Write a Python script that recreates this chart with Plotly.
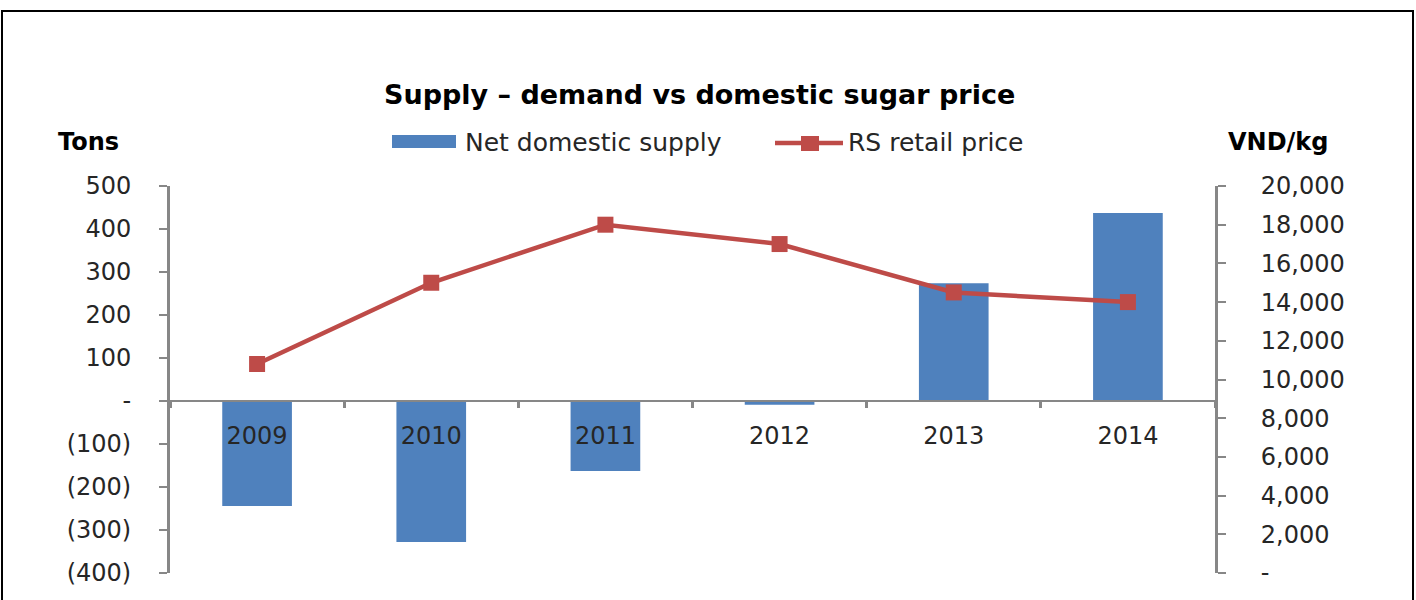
import plotly.graph_objects as go

# Data
years = ["2009", "2010", "2011", "2012", "2013", "2014"]
net_supply = [-244, -328, -163, -9, 274, 437]          # tons
retail_price = [10800, 15000, 18000, 17000, 14500, 14000]  # VND/kg

left_ticks = [500, 400, 300, 200, 100, 0, -100, -200, -300, -400]
left_labels = ["500", "400", "300", "200", "100", "-", "(100)", "(200)", "(300)", "(400)"]
right_ticks = [20000, 18000, 16000, 14000, 12000, 10000, 8000, 6000, 4000, 2000, 0]
right_labels = ["20,000", "18,000", "16,000", "14,000", "12,000", "10,000",
                "8,000", "6,000", "4,000", "2,000", "-"]

BLUE = "#4F81BD"
RED = "#BE4B48"
AXIS = "#878787"
TEXT = "#262626"
FONT = "DejaVu Sans"

W, H = 1416, 600
ML, MR, MT, MB = 170, 201, 186, 27
PW = W - ML - MR
PH = H - MT - MB


def px(x):
    return (x - ML) / PW


def py(y):
    return (H - MB - y) / PH


fig = go.Figure()
fig.add_trace(go.Bar(
    x=years, y=net_supply, name="Net domestic supply",
    marker=dict(color=BLUE, line=dict(width=0)), width=0.4,
    yaxis="y", showlegend=False,
))
fig.add_trace(go.Scatter(
    x=years, y=retail_price, name="RS retail price", mode="lines+markers",
    line=dict(color=RED, width=4.5),
    marker=dict(symbol="square", size=16, color=RED),
    yaxis="y2", showlegend=False,
))

fig.update_layout(
    width=W, height=H,
    margin=dict(l=ML, r=MR, t=MT, b=MB, pad=0),
    paper_bgcolor="white", plot_bgcolor="white",
    font=dict(family=FONT, size=24, color=TEXT),
    xaxis=dict(
        type="category", range=[-0.5, 5.5],
        anchor="free", position=4 / 9,
        showline=True, linecolor=AXIS, linewidth=2,
        ticks="outside", tickson="boundaries", ticklen=6, tickwidth=3, tickcolor=AXIS,
        ticklabelstandoff=13,
        showgrid=False, zeroline=False,
        tickfont=dict(family=FONT, size=24, color=TEXT),
    ),
    yaxis=dict(
        range=[-400, 500], tickvals=left_ticks, ticktext=left_labels,
        showline=True, linecolor=AXIS, linewidth=3,
        ticks="outside", ticklen=8, tickwidth=2, tickcolor=AXIS,
        ticklabelstandoff=23,
        showgrid=False, zeroline=False,
        tickfont=dict(family=FONT, size=24, color=TEXT),
    ),
    yaxis2=dict(
        range=[0, 20000], tickvals=right_ticks, ticktext=right_labels,
        overlaying="y", side="right",
        showline=True, linecolor=AXIS, linewidth=3,
        ticks="outside", ticklen=8, tickwidth=2, tickcolor=AXIS,
        ticklabelstandoff=30,
        showgrid=False, zeroline=False,
        tickfont=dict(family=FONT, size=24, color=TEXT),
    ),
)

# Title, axis titles and legend text
annotations = [
    dict(text="<b>Supply – demand vs domestic sugar price</b>", x=px(699), y=py(95),
         font=dict(family=FONT, size=27, color="black")),
    dict(text="<b>Tons</b>", x=px(88), y=py(142), font=dict(family=FONT, size=24, color="black")),
    dict(text="<b>VND/kg</b>", x=px(1278), y=py(142), font=dict(family=FONT, size=24, color="black")),
    dict(text="Net domestic supply", x=px(463), y=py(142), xanchor="left",
         font=dict(family=FONT, size=25, color=TEXT)),
    dict(text="RS retail price", x=px(846), y=py(142), xanchor="left",
         font=dict(family=FONT, size=25, color=TEXT)),
]
for a in annotations:
    a.setdefault("xanchor", "center")
    a.update(xref="paper", yref="paper", yanchor="middle", showarrow=False)
fig.update_layout(annotations=annotations)

# Legend swatches and outer frame
shapes = [
    dict(type="rect", x0=px(392), x1=px(456), y0=py(148), y1=py(135),
         fillcolor=BLUE, line=dict(width=0)),
    dict(type="line", x0=px(775), x1=px(843), y0=py(143), y1=py(143),
         line=dict(color=RED, width=4.5)),
    dict(type="rect", x0=px(801), x1=px(819), y0=py(151), y1=py(136),
         fillcolor=RED, line=dict(width=0)),
    dict(type="rect", x0=px(2), x1=px(1413), y0=py(620), y1=py(11),
         line=dict(color="black", width=2), fillcolor="rgba(0,0,0,0)"),
]
for s in shapes:
    s.update(xref="paper", yref="paper")
fig.update_layout(shapes=shapes)

fig.write_html("out.html")
